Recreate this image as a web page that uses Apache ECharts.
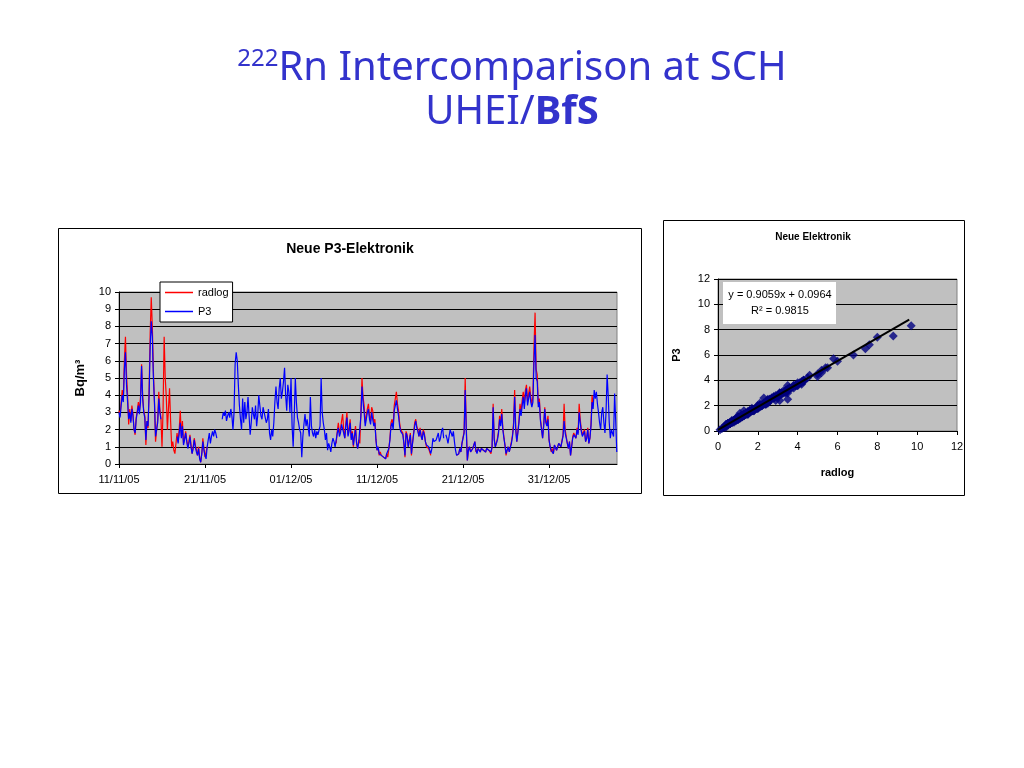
<!DOCTYPE html>
<html><head><meta charset="utf-8">
<script src="https://cdn.jsdelivr.net/npm/echarts@6/dist/echarts.min.js"></script>
<style>html,body{margin:0;padding:0;background:#fff}#c{width:1024px;height:768px}</style>
</head><body><div id="c"></div>
<script>
const N = null;
// x tick labels of the time-series chart (every 10 days, starting 11/11/05)
const tickLabels = ['11/11/05','21/11/05','01/12/05','11/12/05','21/12/05','31/12/05'];
const tickDays = [0, 10, 20, 30, 40, 50];
// samples are 3 h apart: 8 per day, day 0 = 11/11/05
const samplesPerDay = 8;

// P3 (Bq/m3), one row per day
const p3 = [
 3.0,2.7,3.4,4.0,3.6,5.5,6.5,4.6,
 3.6,2.6,3.0,2.4,3.2,2.8,2.0,1.8,
 2.6,3.0,3.4,2.9,3.6,5.7,3.8,3.0,
 2.7,1.4,2.5,2.2,4.0,6.8,8.3,7.4,
 5.0,3.6,1.6,2.0,2.4,3.8,3.0,2.6,
 N,N,N,N,N,N,N,N,
 N,N,N,N,N,N,1.6,1.2,
 1.8,2.4,1.5,2.2,1.1,1.4,1.8,1.3,
 0.9,1.2,1.6,1.0,0.6,0.9,1.4,1.0,
 0.7,0.5,0.9,0.3,0.1,0.6,1.3,0.8,
 0.5,0.3,1.0,1.4,1.8,1.2,1.6,1.9,
 1.6,2.0,1.8,1.5,N,N,N,N,
 2.6,3.0,2.8,3.1,2.5,2.8,3.0,2.7,
 3.2,2.8,2.0,3.0,5.8,6.5,6.0,4.6,
 3.4,2.6,2.0,3.8,2.4,3.6,2.6,3.0,
 3.9,2.8,1.7,2.4,3.3,2.9,2.6,3.4,
 2.2,2.8,4.0,3.4,2.8,2.6,3.3,3.0,
 3.0,2.4,2.6,3.2,1.8,1.4,2.0,1.6,
 2.4,3.6,4.5,3.6,3.2,4.4,5.0,3.8,
 4.2,4.8,5.6,4.0,3.1,4.6,4.2,3.0,
 5.0,2.2,1.0,2.8,5.0,3.6,2.7,2.4,
 2.0,1.8,0.4,1.6,2.3,2.9,2.2,2.6,
 2.1,1.6,3.9,2.2,1.8,1.6,2.0,1.5,
 1.9,1.7,1.6,2.2,5.0,3.0,2.4,2.0,
 1.4,1.8,0.8,1.2,1.0,0.7,1.2,1.5,
 1.3,1.0,1.1,1.8,2.1,1.6,1.8,2.3,
 2.4,1.8,1.5,2.2,2.7,1.6,1.9,2.4,
 1.4,1.8,1.1,1.6,2.0,1.2,0.9,1.3,
 1.2,2.8,4.5,3.6,3.0,2.2,2.1,3.0,
 3.2,2.6,2.3,3.0,2.9,2.2,2.4,1.4,
 0.8,1.0,0.6,0.7,0.5,0.6,0.4,0.5,
 0.3,0.6,0.5,0.9,1.4,2.2,2.4,2.0,
 3.1,3.4,3.7,3.2,2.8,2.2,1.9,2.0,
 1.7,1.2,0.5,1.8,1.6,1.0,0.9,1.7,
 0.6,1.2,1.7,2.2,2.5,2.1,1.9,1.6,
 2.0,1.6,1.4,1.9,1.7,1.3,1.1,1.0,
 1.0,1.1,0.6,0.9,1.5,1.3,1.2,1.4,
 1.6,1.8,1.3,1.5,1.9,2.1,1.5,N,
 1.7,1.5,1.2,1.6,2.0,1.8,1.6,1.9,
 1.3,0.8,0.5,0.6,0.6,0.9,0.7,1.2,
 1.3,1.8,4.3,2.0,0.2,0.8,1.0,0.7,
 0.6,0.9,1.1,1.3,0.8,0.6,0.9,1.0,
 0.7,0.9,1.0,0.8,0.8,0.7,0.9,1.0,
 0.8,0.9,0.7,1.0,3.3,1.4,1.0,1.2,
 1.4,1.8,2.6,2.2,2.9,2.0,1.5,1.1,
 0.6,0.8,1.0,0.7,0.8,1.2,1.6,2.2,
 3.9,2.0,1.3,1.8,2.4,3.2,2.8,3.4,
 3.9,3.2,4.0,4.4,3.4,3.8,4.2,3.6,
 3.3,3.6,6.0,7.5,5.0,4.8,3.3,3.6,
 2.5,2.0,1.5,2.2,3.2,2.4,2.2,2.6,
 1.4,1.0,0.8,0.9,0.6,1.1,1.0,0.8,
 0.9,1.2,1.3,1.0,1.1,1.6,2.5,1.8,
 1.5,1.2,0.9,1.3,0.5,1.0,1.5,1.7,
 1.8,1.5,2.0,1.7,3.0,2.4,1.9,1.6,
 1.6,1.9,1.3,1.5,2.0,1.2,1.5,2.2,
 3.6,3.2,4.3,3.8,4.2,3.5,3.0,2.4,
 2.0,3.0,3.3,2.4,1.8,3.0,5.2,4.0,
 2.4,1.5,2.0,1.8,1.6,4.1,2.5,0.7
];

// radlog (Bq/m3), one row per day (N = no data)
const radlog = [
 3.1,2.8,3.6,4.3,3.8,6.0,7.4,5.2,
 4.0,2.3,3.2,2.5,3.4,2.9,2.0,1.7,
 2.7,3.1,3.6,3.1,3.9,5.8,4.0,3.1,
 2.8,1.1,2.5,2.1,4.3,7.6,9.7,8.0,
 5.4,3.5,1.3,2.0,2.6,4.2,3.2,2.7,
 1.0,3.2,7.4,5.0,3.9,2.0,3.2,4.4,
 2.5,1.0,1.3,0.8,0.6,0.5,1.8,1.3,
 2.0,3.1,1.6,2.5,1.2,1.5,1.9,1.4,
 1.0,1.3,1.7,1.1,0.6,1.0,1.5,1.1,
 0.8,0.5,1.0,0.4,0.1,0.6,1.5,0.9,
 0.4,0.3,1.0,N,N,N,N,N,
 N,N,N,N,N,N,N,N,
 N,N,N,N,N,N,N,N,
 N,N,N,N,N,N,N,N,
 N,N,N,N,N,N,N,N,
 N,N,N,N,N,N,N,N,
 N,N,N,N,N,N,N,N,
 N,N,N,N,N,N,N,N,
 N,N,N,N,N,N,N,N,
 N,N,N,N,N,N,N,N,
 N,N,N,N,N,N,N,N,
 N,N,N,N,N,N,N,N,
 N,N,N,N,N,N,N,N,
 N,N,N,N,N,N,N,N,
 N,N,N,N,N,N,N,N,
 N,N,1.2,1.9,2.4,1.8,2.0,2.5,
 2.9,2.0,1.5,2.4,3.0,1.7,2.1,2.6,
 1.5,1.9,1.0,1.7,2.2,1.2,0.9,1.4,
 1.2,3.0,5.0,3.9,3.4,2.4,2.3,3.2,
 3.5,2.8,2.5,3.3,3.1,2.4,2.6,1.4,
 0.8,1.0,0.5,0.7,0.5,0.6,0.4,0.4,
 0.3,0.6,0.4,0.9,1.5,2.4,2.6,2.2,
 3.4,3.8,4.2,3.5,3.1,2.4,2.0,2.1,
 1.8,1.2,0.4,1.9,1.7,1.0,0.9,1.8,
 0.5,1.2,1.8,2.4,2.6,2.2,2.0,1.6,
 2.1,1.7,1.4,2.0,1.8,1.3,1.0,0.9,
 0.9,1.0,0.5,N,N,N,N,N,
 N,N,N,N,N,N,N,N,
 N,N,N,N,N,N,N,N,
 N,N,0.5,0.6,0.6,0.9,0.7,1.2,
 1.3,1.9,5.0,2.2,0.2,0.8,1.0,0.7,
 0.6,0.9,1.1,1.3,0.7,0.6,0.9,1.0,
 0.7,0.9,1.0,0.8,0.8,0.7,0.9,1.0,
 0.8,0.9,0.6,1.0,3.5,1.5,1.0,1.2,
 1.5,1.9,2.8,2.4,3.2,2.1,1.6,1.1,
 0.5,0.8,1.0,0.7,0.7,1.3,1.7,2.4,
 4.3,2.1,1.3,1.9,2.5,3.5,3.0,3.7,
 4.2,3.5,4.3,4.6,3.6,4.1,4.5,3.9,
 3.5,3.9,6.8,8.8,5.5,5.2,3.5,3.8,
 2.6,2.1,1.5,2.3,3.3,2.5,2.3,2.8,
 1.4,1.0,0.7,0.9,0.6,1.1,1.0,0.8,
 0.9,1.2,1.3,1.0,1.1,1.7,3.5,2.0,
 1.6,1.2,0.9,1.3,0.5,1.0,1.6,1.8,
 1.9,1.5,2.1,1.8,3.5,2.6,2.0,1.7,
 1.6,2.0,1.3,1.5,2.1,1.2,1.5,2.3,
 4.0,3.4,N,N,N,N,N,N,
 N,N,N,N,N,N,N,N,
 N,N,N,N,N,N,N,N
];

// linear fit shown in the scatter chart
const trendSlope = 0.9059;
const trendIntercept = 0.0964;
const trendR2 = 0.9815;
const trendXRange = [0, 9.6];

const toLine = arr => arr.map((v, i) => [i / samplesPerDay, v === null ? '-' : v]);
const scatterPairs = [];
radlog.forEach((r, i) => { if (r !== null && p3[i] !== null && p3[i] !== undefined) scatterPairs.push([r, p3[i]]); });
const trendLine = trendXRange.map(x => [x, trendSlope * x + trendIntercept]);

const FONT = 'Liberation Sans, Arial, sans-serif';
const TFONT = 'Noto Sans, DejaVu Sans, sans-serif';
const blk = '#000';

const chart = echarts.init(document.getElementById('c'));
chart.setOption({
  animation: false,
  textStyle: { fontFamily: FONT },
  legend: {
    data: ['radlog', 'P3'], orient: 'vertical', left: 160, top: 282,
    icon: 'rect', itemWidth: 28, itemHeight: 1.5, itemGap: 8,
    padding: [5, 4, 5, 5], backgroundColor: '#fff', borderColor: blk, borderWidth: 1,
    textStyle: { fontSize: 11, color: blk, fontFamily: FONT }
  },
  grid: [
    { left: 119, top: 292, width: 498, height: 172, show: true, backgroundColor: '#C0C0C0', borderColor: '#808080', borderWidth: 1 },
    { left: 718, top: 279, width: 239, height: 152, show: true, backgroundColor: '#C0C0C0', borderColor: '#808080', borderWidth: 1 }
  ],
  xAxis: [
    { gridIndex: 0, type: 'value', min: 0, max: 57.9, interval: 10,
      axisLine: { lineStyle: { color: blk } },
      axisTick: { length: 4, lineStyle: { color: blk }, customValues: tickDays },
      splitLine: { show: false },
      axisLabel: { color: blk, fontSize: 11, margin: 10, customValues: tickDays,
        formatter: v => { const k = tickDays.indexOf(Math.round(v)); return k >= 0 ? tickLabels[k] : ''; } } },
    { gridIndex: 1, type: 'value', min: 0, max: 12, interval: 2,
      name: 'radlog', nameLocation: 'middle', nameGap: 36,
      nameTextStyle: { fontWeight: 'bold', fontSize: 11, color: blk },
      axisLine: { lineStyle: { color: blk } }, axisTick: { length: 4, lineStyle: { color: blk } },
      splitLine: { show: false },
      axisLabel: { color: blk, fontSize: 11, margin: 10 } }
  ],
  yAxis: [
    { gridIndex: 0, type: 'value', min: 0, max: 10, interval: 1,
      name: 'Bq/m³', nameLocation: 'middle', nameRotate: 90, nameGap: 32,
      nameTextStyle: { fontWeight: 'bold', fontSize: 13, color: blk },
      axisLine: { show: true, lineStyle: { color: blk } }, axisTick: { show: true, length: 4, lineStyle: { color: blk } },
      splitLine: { lineStyle: { color: blk } },
      axisLabel: { color: blk, fontSize: 11, margin: 8 } },
    { gridIndex: 1, type: 'value', min: 0, max: 12, interval: 2,
      name: 'P3', nameLocation: 'middle', nameRotate: 90, nameGap: 36,
      nameTextStyle: { fontWeight: 'bold', fontSize: 11, color: blk },
      axisLine: { show: true, lineStyle: { color: blk } }, axisTick: { show: true, length: 4, lineStyle: { color: blk } },
      splitLine: { lineStyle: { color: blk } },
      axisLabel: { color: blk, fontSize: 11, margin: 8 } }
  ],
  series: [
    { name: 'radlog', type: 'line', xAxisIndex: 0, yAxisIndex: 0, data: toLine(radlog),
      symbol: 'none', color: '#FF0000', lineStyle: { width: 1.2, color: '#FF0000' }, z: 2 },
    { name: 'P3', type: 'line', xAxisIndex: 0, yAxisIndex: 0, data: toLine(p3),
      symbol: 'none', color: '#0000FF', lineStyle: { width: 1.2, color: '#0000FF' }, z: 3 },
    { name: 'pairs', type: 'scatter', xAxisIndex: 1, yAxisIndex: 1, data: scatterPairs,
      symbol: 'diamond', symbolSize: 9, itemStyle: { color: '#000080' }, z: 2 },
    { name: 'fit', type: 'line', xAxisIndex: 1, yAxisIndex: 1, data: trendLine,
      symbol: 'none', lineStyle: { color: blk, width: 2 }, z: 4 }
  ],
  graphic: [
    { type: 'text', x: 512, y: 47, z: 100, style: {
        text: '{s|222}{m|Rn Intercomparison at SCH}\n{m|UHEI/}{b|BfS}',
        align: 'center', verticalAlign: 'top', fill: '#3333CC', fontFamily: TFONT,
        rich: {
          s: { fontSize: 24, lineHeight: 24, verticalAlign: 'top', fill: '#3333CC', fontFamily: TFONT },
          m: { fontSize: 40, lineHeight: 44, fill: '#3333CC', fontFamily: TFONT },
          b: { fontSize: 40, lineHeight: 44, fontWeight: 'bold', fill: '#3333CC', fontFamily: TFONT }
        } } },
    { type: 'rect', z: 100, shape: { x: 58.5, y: 228.5, width: 583, height: 265 }, style: { fill: 'none', stroke: blk, lineWidth: 1 } },
    { type: 'rect', z: 100, shape: { x: 663.5, y: 220.5, width: 301, height: 275 }, style: { fill: 'none', stroke: blk, lineWidth: 1 } },
    { type: 'text', x: 350, y: 249, z: 100, style: { text: 'Neue P3-Elektronik', align: 'center', verticalAlign: 'middle', fontSize: 14, fontWeight: 'bold', fontFamily: FONT, fill: blk } },
    { type: 'text', x: 813, y: 237, z: 100, style: { text: 'Neue Elektronik', align: 'center', verticalAlign: 'middle', fontSize: 10, fontWeight: 'bold', fontFamily: FONT, fill: blk } },
    { type: 'rect', z: 100, shape: { x: 723, y: 282, width: 113, height: 42 }, style: { fill: '#fff', stroke: 'none' } },
    { type: 'text', x: 780, y: 295, z: 101, style: { text: 'y = ' + trendSlope + 'x + ' + trendIntercept, align: 'center', verticalAlign: 'middle', fontSize: 11, fontFamily: FONT, fill: blk } },
    { type: 'text', x: 780, y: 311, z: 101, style: { text: 'R² = ' + trendR2, align: 'center', verticalAlign: 'middle', fontSize: 11, fontFamily: FONT, fill: blk } }
  ]
});
</script></body></html>
